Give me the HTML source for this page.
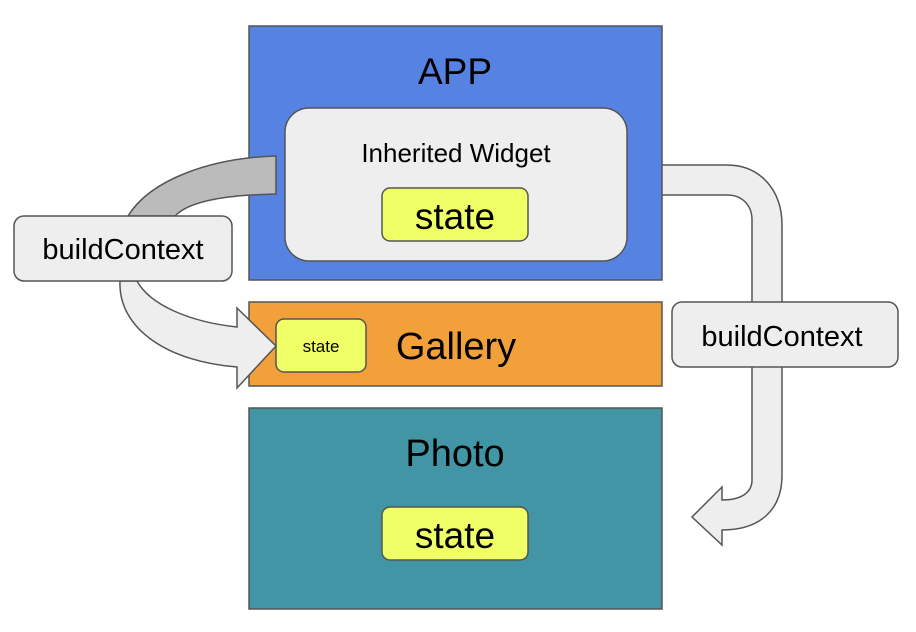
<!DOCTYPE html>
<html><head><style>
body{margin:0;background:#fff;}
svg{display:block;font-family:"Liberation Sans",Arial,sans-serif;}
</style></head><body>
<svg width="916" height="632" viewBox="0 0 916 632">
<rect x="249" y="26" width="413" height="254" fill="#5683e2" stroke="#555" stroke-width="1.5"/>
<text x="455" y="84" font-size="37" text-anchor="middle">APP</text>
<rect x="285" y="108" width="342" height="153" rx="24" fill="#eeeeee" stroke="#555" stroke-width="1.5"/>
<text x="456" y="162" font-size="26" text-anchor="middle">Inherited Widget</text>
<rect x="382" y="188" width="146" height="53" rx="8" fill="#f1ff66" stroke="#555" stroke-width="1.5"/>
<text x="455" y="229" font-size="37" text-anchor="middle">state</text>

<rect x="249" y="302" width="413" height="84" fill="#f2a03a" stroke="#555" stroke-width="1.5"/>
<text x="456" y="359" font-size="38" text-anchor="middle">Gallery</text>
<rect x="276" y="319" width="90" height="53" rx="8" fill="#f1ff66" stroke="#555" stroke-width="1.5"/>
<text x="321" y="352" font-size="17" text-anchor="middle">state</text>

<rect x="249" y="408" width="413" height="201" fill="#4195a4" stroke="#555" stroke-width="1.5"/>
<text x="455" y="466" font-size="38" text-anchor="middle">Photo</text>
<rect x="382" y="507" width="146" height="53" rx="8" fill="#f1ff66" stroke="#555" stroke-width="1.5"/>
<text x="455" y="548" font-size="37" text-anchor="middle">state</text>

<path d="M276 156 L276 194 C230 195 190 200 175 216 L128 216 C150 180 210 158 276 156 Z" fill="#bbbbbb" stroke="#555" stroke-width="1.5"/>
<path d="M120 281 C118 330 170 362 237 367 L237 388 L276 346 L237 308 L237 327 C190 322 150 305 137 281 Z" fill="#eeeeee" stroke="#555" stroke-width="1.5"/>
<rect x="14" y="216" width="218" height="65" rx="10" fill="#eeeeee" stroke="#555" stroke-width="1.5"/>
<text x="123" y="259" font-size="29" text-anchor="middle">buildContext</text>

<path d="M662 165 L727 165 C760 165 782 190 782 225 L782 475 C782 510 760 530 722 530 L722 545 L692 517 L722 487 L722 500 C742 500 752 492 752 480 L752 220 C752 205 742 195 727 195 L662 195 Z" fill="#eeeeee" stroke="#555" stroke-width="1.5"/>
<rect x="672" y="302" width="226" height="65" rx="10" fill="#eeeeee" stroke="#555" stroke-width="1.5"/>
<text x="782" y="346" font-size="29" text-anchor="middle">buildContext</text>
</svg>
</body></html>
